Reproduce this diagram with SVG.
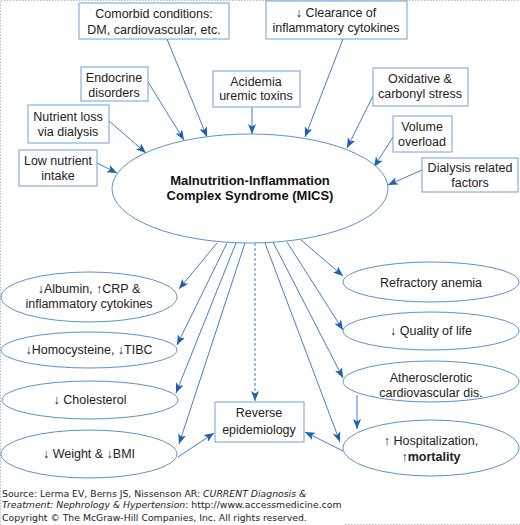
<svg xmlns="http://www.w3.org/2000/svg" width="520" height="525" viewBox="0 0 520 525">
<defs>
<marker id="ah" viewBox="0 0 10 8" refX="10" refY="4" markerWidth="10" markerHeight="8" markerUnits="userSpaceOnUse" orient="auto">
<path d="M0,0 L10,4 L0,8 L2.5,4 z" fill="#1f5fae"/>
</marker>
<style>
.bx{fill:#fff;stroke:#6ea2da;stroke-width:1}
.el{fill:#fff;stroke:#5a93d0;stroke-width:1}
.t{font-family:"Liberation Sans",Arial,sans-serif;font-size:12.5px;fill:#222;text-anchor:middle}
.tb{font-family:"Liberation Sans",Arial,sans-serif;font-size:13px;font-weight:bold;fill:#111;text-anchor:middle}
.c{stroke:#3f80c6;stroke-width:1;fill:none;marker-end:url(#ah)}
.d{stroke:#3f80c6;stroke-width:1;fill:none;stroke-dasharray:3,2;marker-end:url(#ah)}
.f{font-family:"DejaVu Sans",Verdana,sans-serif;font-size:9.3px;fill:#222}
.brd{stroke:#bbb;stroke-width:1;stroke-dasharray:1.5,1.5;fill:none}
</style>
</defs>
<rect width="520" height="525" fill="#fff"/>
<path class="brd" d="M0.5,525 V0.5 H519.5 M345,524.5 H520"/>

<g id="connectors">
<line class="c" x1="167" y1="39" x2="207" y2="137"/>
<line class="c" x1="148" y1="82" x2="184" y2="140"/>
<line class="c" x1="109" y1="121" x2="146" y2="153"/>
<line class="c" x1="97" y1="163" x2="117" y2="173"/>
<line class="c" x1="252" y1="107" x2="252" y2="134"/>
<line class="c" x1="343" y1="39" x2="305" y2="137"/>
<line class="c" x1="373" y1="96" x2="347" y2="148"/>
<line class="c" x1="393" y1="137" x2="374" y2="167"/>
<line class="c" x1="422" y1="170" x2="388" y2="185"/>
<line class="c" x1="217" y1="243" x2="179" y2="289"/>
<line class="c" x1="227" y1="243" x2="177" y2="345"/>
<line class="c" x1="236" y1="243" x2="176" y2="393"/>
<line class="c" x1="245" y1="243" x2="179" y2="444"/>
<line class="d" x1="255" y1="243" x2="255" y2="401"/>
<line class="c" x1="265" y1="243" x2="340" y2="442"/>
<line class="c" x1="273" y1="242" x2="343" y2="378"/>
<line class="c" x1="287" y1="242" x2="343" y2="330"/>
<line class="c" x1="301" y1="240" x2="343" y2="276"/>
<line class="c" x1="357" y1="395" x2="357" y2="429"/>
<line class="c" x1="178" y1="457" x2="214" y2="433"/>
<line class="c" x1="343" y1="451" x2="305" y2="432"/>
</g>

<g id="comorbid"><rect class="bx" x="79" y="3" width="150" height="36"/>
<text class="t" x="154" y="18">Comorbid conditions:</text><text class="t" x="154" y="34">DM, cardiovascular, etc.</text></g>
<g id="clearance"><rect class="bx" x="266" y="1" width="141" height="38"/>
<text class="t" x="336" y="17">↓ Clearance of</text><text class="t" x="336" y="32">inflammatory cytokines</text></g>
<g id="endocrine"><rect class="bx" x="81" y="67" width="67" height="34"/>
<text class="t" x="114" y="82">Endocrine</text><text class="t" x="114" y="97">disorders</text></g>
<g id="nutrientloss"><rect class="bx" x="28" y="105" width="81" height="38"/>
<text class="t" x="68" y="121">Nutrient loss</text><text class="t" x="68" y="136">via dialysis</text></g>
<g id="lownutrient"><rect class="bx" x="19" y="150" width="78" height="36"/>
<text class="t" x="58" y="165">Low nutrient</text><text class="t" x="58" y="180">intake</text></g>
<g id="acidemia"><rect class="bx" x="213" y="71" width="87" height="36"/>
<text class="t" x="256" y="86">Acidemia</text><text class="t" x="256" y="100">uremic toxins</text></g>
<g id="oxidative"><rect class="bx" x="373" y="68" width="95" height="38"/>
<text class="t" x="420" y="83">Oxidative &amp;</text><text class="t" x="420" y="98">carbonyl stress</text></g>
<g id="volume"><rect class="bx" x="393" y="116" width="59" height="36"/>
<text class="t" x="422" y="131">Volume</text><text class="t" x="422" y="146">overload</text></g>
<g id="dialysis"><rect class="bx" x="422" y="158" width="96" height="34"/>
<text class="t" x="470" y="172">Dialysis related</text><text class="t" x="470" y="187">factors</text></g>

<g id="mics"><ellipse class="el" cx="250" cy="188.5" rx="138" ry="54.5"/>
<text class="tb" x="250" y="185">Malnutrition-Inflammation</text><text class="tb" x="250" y="200">Complex Syndrome (MICS)</text></g>

<g id="albumin"><ellipse class="el" cx="89" cy="297" rx="88" ry="25"/>
<text class="t" x="89" y="293">↓Albumin, ↑CRP &amp;</text><text class="t" x="89" y="308">inflammatory cytokines</text></g>
<g id="homocysteine"><ellipse class="el" cx="89" cy="350" rx="88" ry="18"/>
<text class="t" x="89" y="354">↓Homocysteine, ↓TIBC</text></g>
<g id="cholesterol"><ellipse class="el" cx="90" cy="400" rx="88" ry="19"/>
<text class="t" x="90" y="404">↓ Cholesterol</text></g>
<g id="weight"><ellipse class="el" cx="89" cy="454" rx="88" ry="24"/>
<text class="t" x="89" y="458">↓ Weight &amp; ↓BMI</text></g>

<g id="reverse"><rect class="bx" x="215" y="402" width="89" height="40"/>
<text class="t" x="259" y="417">Reverse</text><text class="t" x="259" y="434">epidemiology</text></g>

<g id="anemia"><ellipse class="el" cx="431" cy="282" rx="88" ry="20"/>
<text class="t" x="431" y="287">Refractory anemia</text></g>
<g id="quality"><ellipse class="el" cx="431" cy="331" rx="88" ry="19"/>
<text class="t" x="431" y="335">↓ Quality of life</text></g>
<g id="athero"><ellipse class="el" cx="431" cy="381.5" rx="88" ry="20.5"/>
<text class="t" x="431" y="382">Atherosclerotic</text><text class="t" x="431" y="397">cardiovascular dis.</text></g>
<g id="hosp"><ellipse class="el" cx="431" cy="448" rx="88" ry="28"/>
<text class="t" x="431" y="445">↑ Hospitalization,</text><text class="t" x="431" y="461">↑<tspan font-weight="bold">mortality</tspan></text></g>

<g id="footer">
<text class="f" x="2" y="497">Source: Lerma EV, Berns JS, Nissenson AR: <tspan font-style="italic">CURRENT Diagnosis &amp;</tspan></text>
<text class="f" x="2" y="508"><tspan font-style="italic">Treatment: Nephrology &amp; Hypertension</tspan>: http://www.accessmedicine.com</text>
<text class="f" x="2" y="521">Copyright © The McGraw-Hill Companies, Inc. All rights reserved.</text>
</g>
</svg>
